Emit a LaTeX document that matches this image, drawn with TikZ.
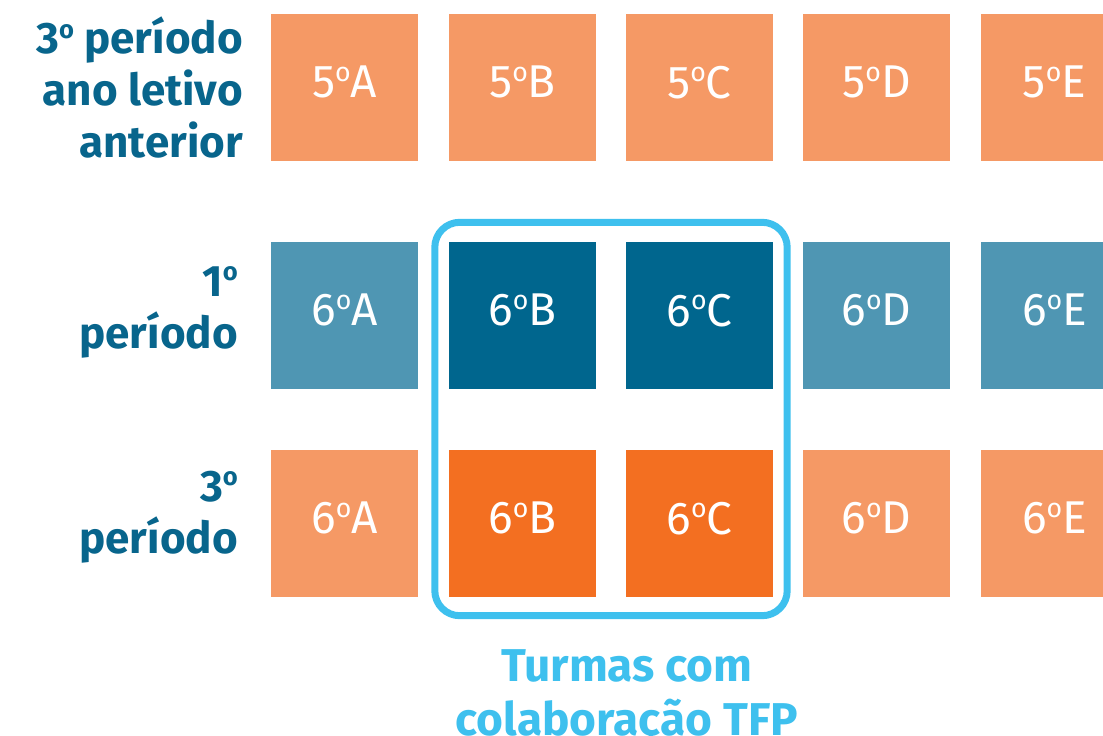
\documentclass[tikz,border=0pt]{standalone}
\usepackage{fontspec}
\setmainfont{Fira Sans}
\usetikzlibrary{positioning, fit}
\definecolor{cO}{RGB}{245,153,101}
\definecolor{cOd}{RGB}{243,111,33}
\definecolor{cT}{RGB}{79,150,179}
\definecolor{cN}{RGB}{0,102,142}
\definecolor{cF}{RGB}{62,192,238}
\definecolor{cL}{RGB}{8,101,140}
% raised o, without the underline that Fira puts under the ordinal sign
\newcommand{\ord}{\raisebox{0.36em}{\scalebox{0.58}{o}}}

\begin{document}
\begin{tikzpicture}[x=1pt, y=-1pt,
    turma/.style={minimum size=147pt, inner sep=0pt, text=white, text depth=10pt,
        font=\fontsize{46}{46}\selectfont},
    rowlabel/.style={anchor=east, align=right, inner sep=0pt, text=cL,
        font=\fontsize{44}{52}\bfseries\selectfont}]
    \useasboundingbox (0,0) rectangle (1103,736);

    % 3o periodo ano letivo anterior
    \node[rowlabel] (lab5) at (243,88) {3\ord{} período\\ano letivo\\anterior};
    \node[turma, fill=cO] (sq5a) at (344.5,87) {5\ord A};
    \node[turma, fill=cO] (sq5b) at (522.5,87) {5\ord B};
    \node[turma, fill=cO] (sq5c) at (699.5,87) {5\ord C};
    \node[turma, fill=cO] (sq5d) at (876.5,87) {5\ord D};
    \node[turma, fill=cO] (sq5e) at (1054.5,87) {5\ord E};

    % 1o periodo
    \node[rowlabel] (lab1) at (238,312) {1\ord\\período};
    \node[turma, fill=cT] (sq6a1) at (344.5,315) {6\ord A};
    \node[turma, fill=cN] (sq6b1) at (522.5,315) {6\ord B};
    \node[turma, fill=cN] (sq6c1) at (699.5,315) {6\ord C};
    \node[turma, fill=cT] (sq6d1) at (876.5,315) {6\ord D};
    \node[turma, fill=cT] (sq6e1) at (1054.5,315) {6\ord E};

    % 3o periodo
    \node[rowlabel] (lab3) at (238,517) {3\ord\\período};
    \node[turma, fill=cO] (sq6a3) at (344.5,523) {6\ord A};
    \node[turma, fill=cOd] (sq6b3) at (522.5,523) {6\ord B};
    \node[turma, fill=cOd] (sq6c3) at (699.5,523) {6\ord C};
    \node[turma, fill=cO] (sq6d3) at (876.5,523) {6\ord D};
    \node[turma, fill=cO] (sq6e3) at (1054.5,523) {6\ord E};

    % TFP frame
    \node[draw=cF, line width=7pt, rounded corners=25pt, inner xsep=14pt,
        inner ysep=19pt, fit=(sq6b1)(sq6c3)] (tfp) {};
    \node[below=30pt of tfp, xshift=16pt, align=center, inner sep=0pt, text=cF,
        font=\fontsize{46}{54}\bfseries\selectfont] (cap) {Turmas com\\colaboração TFP};
\end{tikzpicture}
\end{document}
